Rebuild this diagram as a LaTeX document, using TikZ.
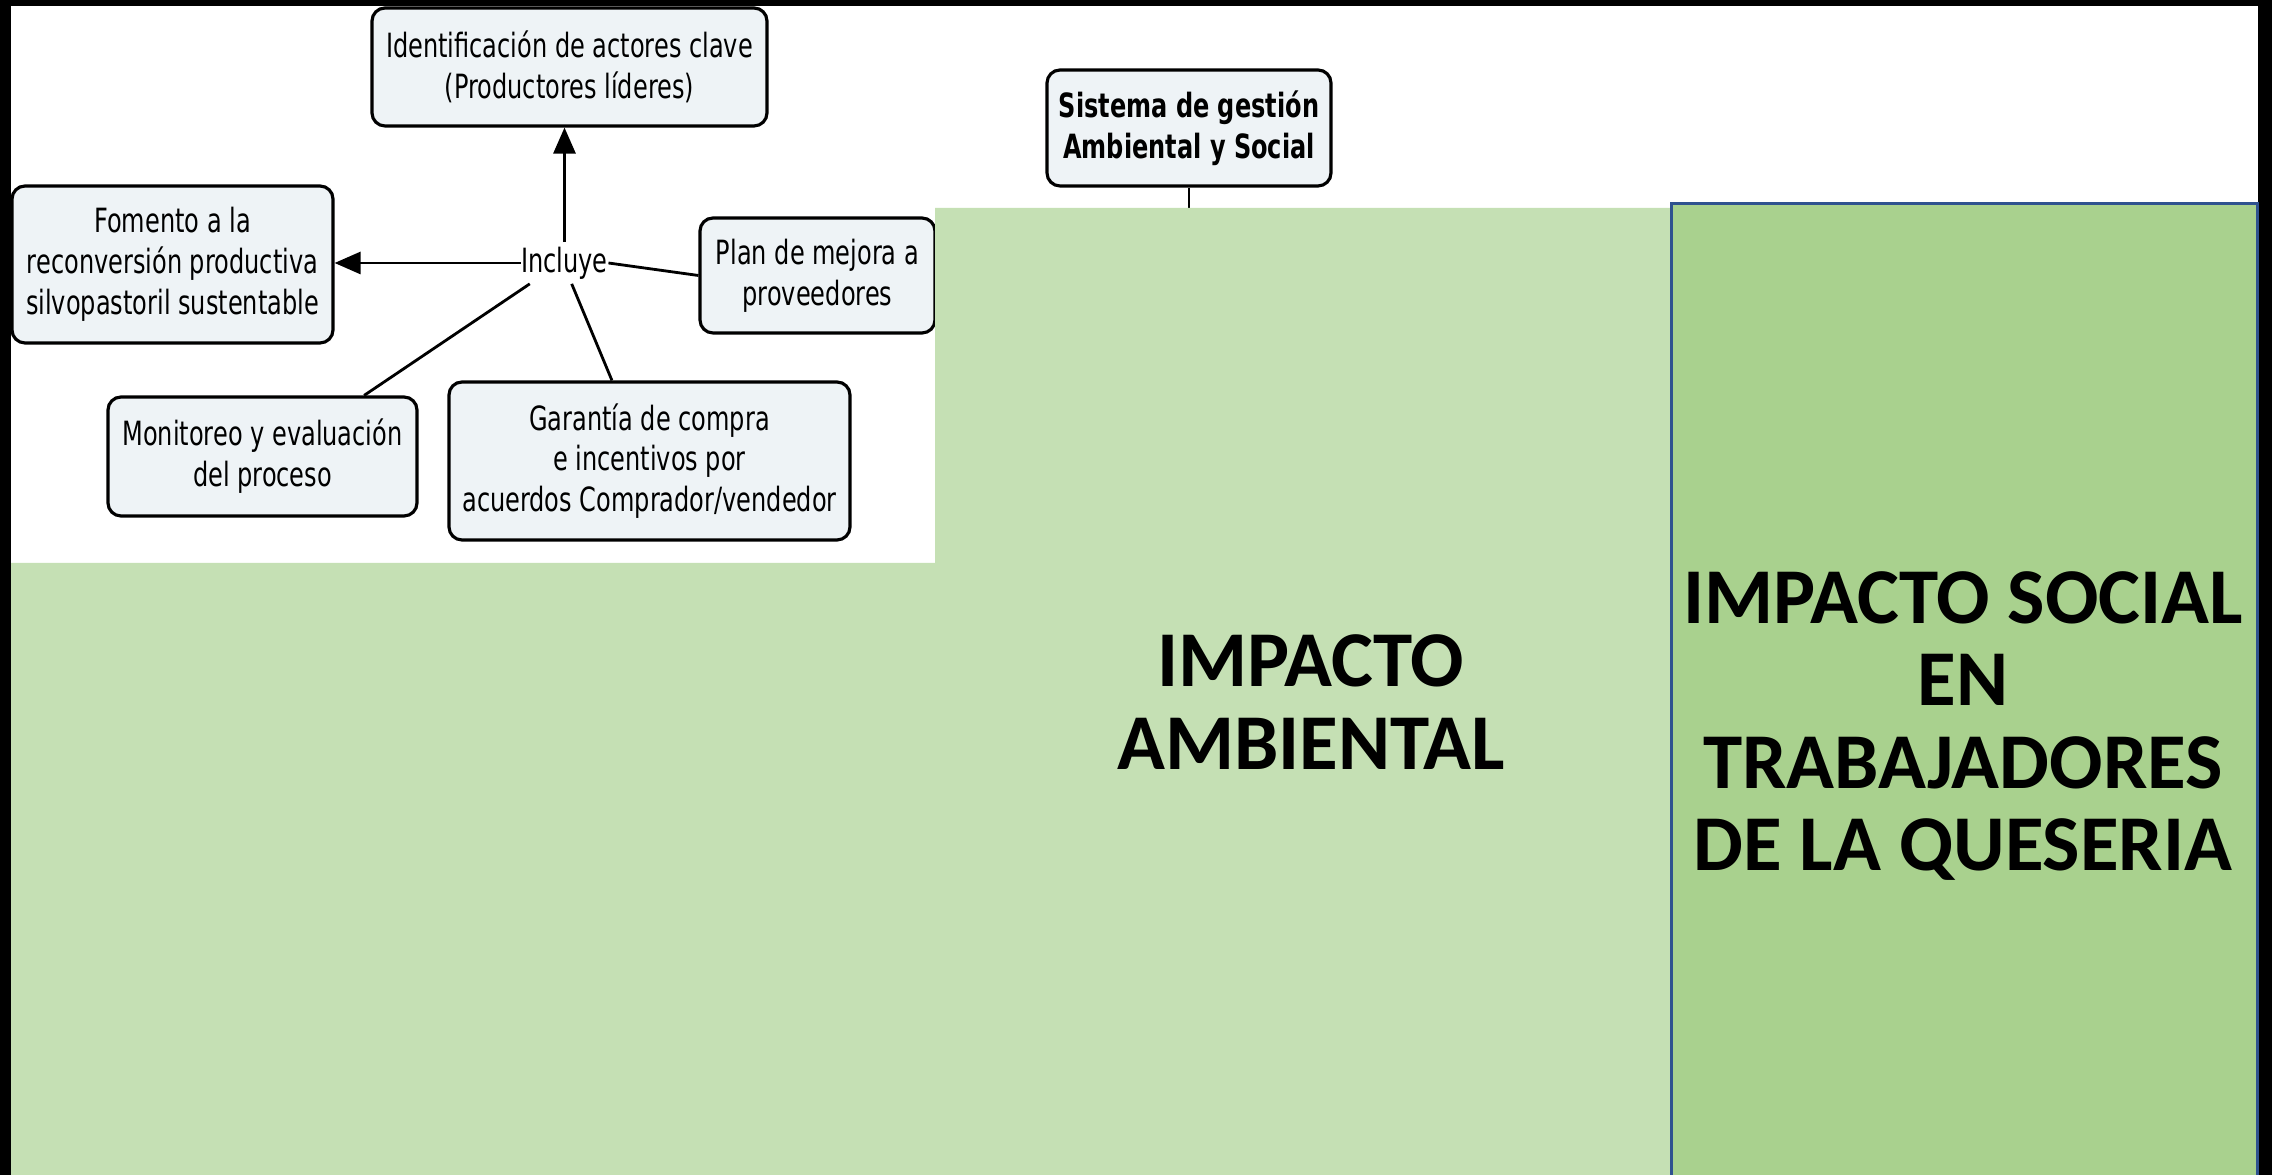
\documentclass[tikz,border=0pt]{standalone}
\usepackage{fontspec}
\setmainfont{Carlito}
\newfontfamily\mapfont[FakeStretch=0.72]{DejaVu Sans}
\usetikzlibrary{arrows.meta,calc}
\definecolor{lgreen}{HTML}{C5E0B4}
\definecolor{dgreen}{HTML}{A9D18E}
\definecolor{oblue}{HTML}{2F528F}
\definecolor{boxfill}{HTML}{EEF3F6}
\begin{document}
\begin{tikzpicture}[x=0.1mm,y=-0.1mm,
  mapfnt/.style={font=\mapfont\fontsize{9.5pt}{11.6pt}\selectfont},
  mapbox/.style={draw=black, line width=0.9pt, rounded corners=1.3mm, fill=boxfill, align=center, inner sep=0pt, mapfnt},
  conn/.style={line width=0.8pt},
  arr/.style={conn, -{Triangle[length=2.6mm,width=2.2mm]}},
  big/.style={font=\bfseries\fontsize{22.5pt}{23.4pt}\selectfont, align=center}]
\useasboundingbox (0,0) rectangle (2272,1175);
\fill[black] (0,0) rectangle (2272,1175);
\fill[white] (11,6) rectangle (2258,1175);

% concept map
\node[mapbox, minimum width=39.5mm, minimum height=11.8mm] (ident) at (569.5,67) {Identificación de actores clave\\(Productores líderes)};
\node[mapbox, minimum width=32.1mm, minimum height=15.7mm] (fom) at (172.5,264.5) {Fomento a la\\reconversión productiva\\silvopastoril sustentable};
\node[mapbox, minimum width=23.5mm, minimum height=11.5mm] (plan) at (817.5,275.5) {Plan de mejora a\\proveedores};
\node[mapbox, minimum width=30.9mm, minimum height=11.9mm] (moni) at (262.5,456.5) {Monitoreo y evaluación\\del proceso};
\node[mapbox, minimum width=40.1mm, minimum height=15.8mm] (gar) at (649.5,461) {Garantía de compra\\e incentivos por\\acuerdos Comprador/vendedor};
\node[mapbox, minimum width=28.4mm, minimum height=11.6mm, font=\mapfont\bfseries\fontsize{9.5pt}{11.6pt}\selectfont] (sist) at (1189,128) {Sistema de gestión\\Ambiental y Social};
\node[mapfnt, inner xsep=0pt, inner ysep=0.4mm] (incl) at (564.5,263) {Incluye};

\draw[arr] (incl.north) -- (incl.north |- ident.south);
\draw[arr] (incl.west) -- (incl.west -| fom.east);
\draw[conn] (incl.east) -- (plan.west);
\draw[conn] (incl.211) -- (moni.31);
\draw[conn] (incl.289) -- (gar.115);
\coordinate (sistend) at (1189,212);
\draw[conn] (sist.south) -- (sistend);

% green panels
\fill[lgreen] (935,208) -- (1671,208) -- (1671,1175) -- (11,1175) -- (11,563) -- (935,563) -- cycle;
\draw[oblue, line width=0.85pt, fill=dgreen] (1671,204) rectangle (2257,1185);

\node[big] (amb) at (1311,702) {IMPACTO\\AMBIENTAL};
\node[big] (soc) at (1963,726) {IMPACTO SOCIAL\\EN\\TRABAJADORES\\DE LA QUESERIA};
\end{tikzpicture}
\end{document}
